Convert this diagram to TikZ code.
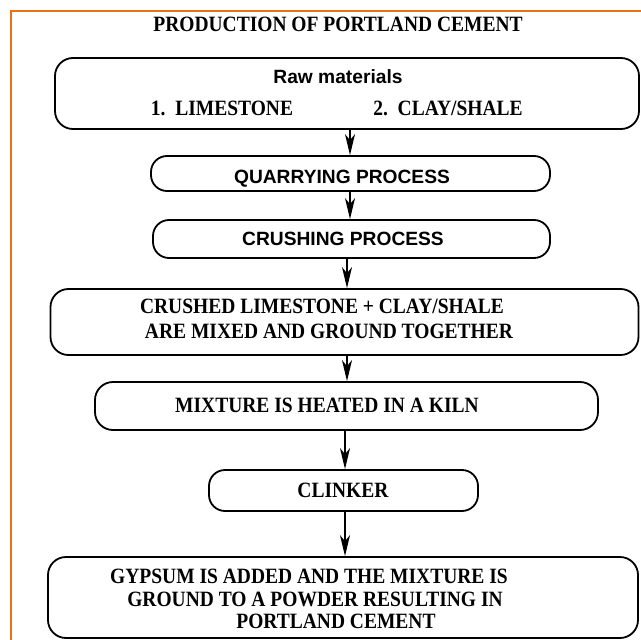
\documentclass[tikz,border=0pt]{standalone}
\usepackage{graphicx}
\usepackage{fontspec}
\setmainfont{Liberation Serif}
\newfontfamily\arialfont{Liberation Sans}
\usetikzlibrary{arrows.meta}
\definecolor{frameorange}{RGB}{232,114,22}
\newcommand{\talltext}[1]{\scalebox{1}[1.12]{#1}}
\tikzset{
  box/.style={draw=black, line width=1.8pt, rounded corners=18pt, inner sep=0pt},
  pill/.style={draw=black, line width=1.8pt, rounded corners=16pt, inner sep=0pt},
  serif/.style={font=\bfseries\fontsize{19.5}{22}\selectfont, inner sep=0pt, anchor=base},
  sans/.style={font=\arialfont\bfseries\fontsize{19.2}{22}\selectfont, inner sep=0pt, anchor=base},
  arr/.style={line width=1.5pt, -{Stealth[length=21pt, width=10pt, inset=6pt]}},
}
\begin{document}
\begin{tikzpicture}[x=1pt, y=-1pt]
\useasboundingbox (0,0) rectangle (641,640);
\clip (0,0) rectangle (641,640);
\fill[white] (0,0) rectangle (641,640);
\draw[frameorange, line width=2.6pt] (11,11) rectangle (700,700);

\node[serif] (title) at (338,31) {\talltext{PRODUCTION OF PORTLAND CEMENT}};

% boxes
\node[box, minimum width=584pt, minimum height=71pt] (raw) at (347,93.5) {};
\node[pill, minimum width=399pt, minimum height=35pt] (quar) at (350.5,173.5) {};
\node[pill, minimum width=397pt, minimum height=38pt] (crush) at (351.5,239) {};
\node[box, minimum width=588pt, minimum height=66pt] (crushed) at (344.5,322) {};
\node[box, minimum width=503pt, minimum height=48pt] (mix) at (346.5,406) {};
\node[pill, minimum width=269pt, minimum height=41pt] (clink) at (343.5,490.5) {};
\node[box, minimum width=590pt, minimum height=81pt] (gyp) at (343,597.5) {};

% texts
\node[sans] (rawt) at (338,83) {Raw materials};
\node[serif] (lime) at (222,115) {\talltext{1.\ \ LIMESTONE}};
\node[serif] (clay) at (448,115) {\talltext{2.\ \ CLAY/SHALE}};
\node[sans] (quart) at (342,183) {QUARRYING PROCESS};
\node[sans] (crusht) at (343,245) {CRUSHING PROCESS};
\node[serif] (cr1) at (322,313) {\talltext{CRUSHED LIMESTONE + CLAY/SHALE}};
\node[serif] (cr2) at (329,338) {\talltext{ARE MIXED AND GROUND TOGETHER}};
\node[serif] (mixt) at (327,412) {\talltext{MIXTURE IS HEATED IN A KILN}};
\node[serif] (clinkt) at (343,497) {\talltext{CLINKER}};
\node[serif] (g1) at (309,583) {\talltext{GYPSUM IS ADDED AND THE MIXTURE IS}};
\node[serif] (g2) at (315,606) {\talltext{GROUND TO A POWDER RESULTING IN}};
\node[serif] (g3) at (336,628) {\talltext{PORTLAND CEMENT}};

% arrow columns
\coordinate (a1) at (350,0);
\coordinate (a2) at (347,0);
\coordinate (a3) at (345,0);

\draw[arr] (raw.south -| a1) -- (quar.north -| a1);
\draw[arr] (quar.south -| a1) -- (crush.north -| a1);
\draw[arr] (crush.south -| a2) -- (crushed.north -| a2);
\draw[arr] (crushed.south -| a2) -- (mix.north -| a2);
\draw[arr] (mix.south -| a3) -- (clink.north -| a3);
\draw[arr] (clink.south -| a3) -- (gyp.north -| a3);
\end{tikzpicture}
\end{document}
